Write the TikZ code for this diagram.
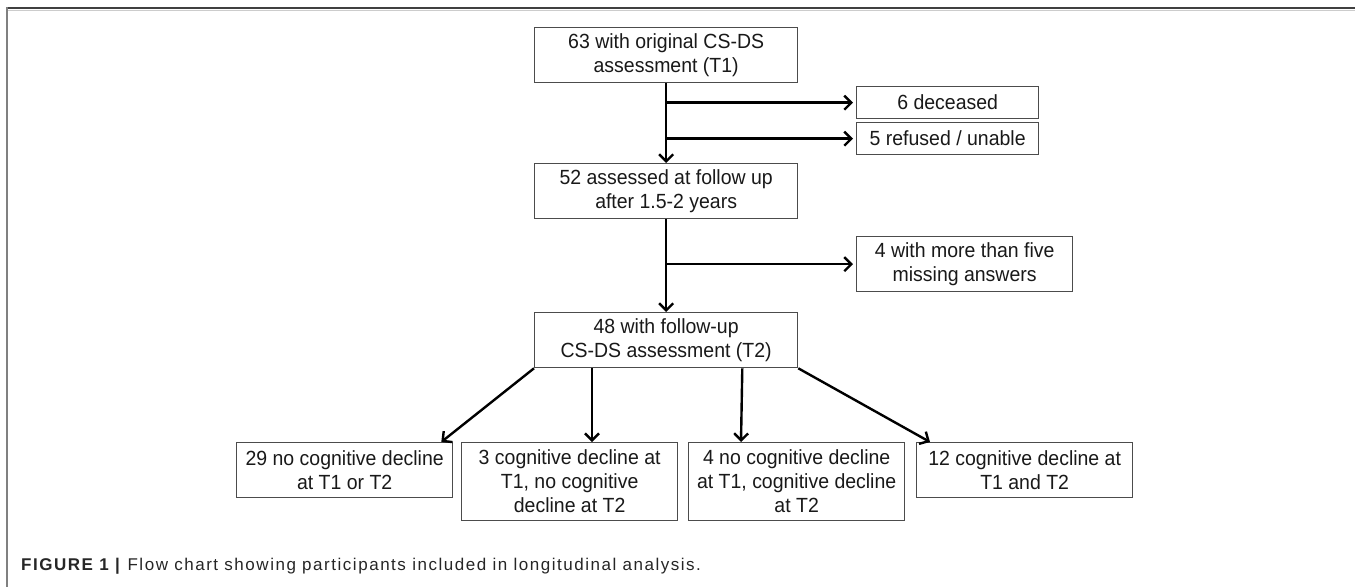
\documentclass[tikz,border=0pt]{standalone}
\usepackage{fontspec}
\setmainfont{Liberation Sans}
\newfontfamily\boxfont[FakeStretch=0.95]{Liberation Sans}
\newfontfamily\capfont[LetterSpace=9]{Liberation Sans}
\usetikzlibrary{arrows.meta,calc}
\begin{document}
\begin{tikzpicture}[x=1pt,y=-1pt,
  box/.style={draw=black!70, line width=1.3pt, align=center, inner sep=0pt, anchor=north west,
    font=\boxfont\fontsize{20.5}{24}\selectfont, text=black!90},
  arr/.style={line width=2.4pt, -{Straight Barb[length=7pt,width=14pt]}},
  frameline/.style={line width=2pt}]
\useasboundingbox (0,0) rectangle (1355,587);
\fill[white] (0,0) rectangle (1355,587);
% frame
\draw[frameline, black!75] (6,8) -- (1355,8);
\draw[black!20, line width=1pt] (8,10.5) -- (1355,10.5);
\draw[frameline, black!50] (7,7) -- (7,587);
% nodes
\node[box, minimum width=263pt, minimum height=55pt] (t1) at (534,27) {63 with original CS-DS\\assessment (T1)};
\node[box, minimum width=182pt, minimum height=32pt] (dec) at (856,86) {6 deceased};
\node[box, minimum width=182pt, minimum height=32pt] (ref) at (856,122) {5 refused / unable};
\node[box, minimum width=263pt, minimum height=55pt] (t52) at (534,163) {52 assessed at follow up\\after 1.5-2 years};
\node[box, minimum width=216pt, minimum height=55pt] (miss) at (856,236) {4 with more than five\\missing answers};
\node[box, minimum width=263pt, minimum height=55pt] (t48) at (534,312) {48 with follow-up\\CS-DS assessment (T2)};
\node[box, minimum width=216pt, minimum height=55pt] (b29) at (236,442) {29 no cognitive decline\\at T1 or T2};
\node[box, minimum width=216pt, minimum height=78pt] (b3) at (461,442) {3 cognitive decline at\\T1, no cognitive\\decline at T2};
\node[box, minimum width=216pt, minimum height=78pt] (b4) at (688,442) {4 no cognitive decline\\at T1, cognitive decline\\at T2};
\node[box, minimum width=216pt, minimum height=55pt] (b12) at (916,442) {12 cognitive decline at\\T1 and T2};
% connectors
\draw[arr] (t1) -- (t52);
\draw[arr, shorten >=3pt] (t1.south |- dec.west) -- (dec.west);
\draw[arr, shorten >=3pt] (t1.south |- ref.west) -- (ref.west);
\draw[arr] (t52) -- (t48);
\draw[arr, shorten >=3pt] (t52.south |- miss.west) -- (miss.west);
\draw[arr] (t48.south west) -- ($(b29.north east)+(-12,0)$);
\draw[arr] ($(t48.south west)+(58,0)$) -- ($(b3.north west)+(131,0)$);
\draw[arr] ($(t48.south east)+(-56,0)$) -- ($(b4.north west)+(53,0)$);
\draw[arr] (t48.south east) -- ($(b12.north west)+(14,0)$);
% caption
\node[anchor=west, inner sep=0pt, font=\capfont\fontsize{17}{20}\selectfont, text=black!85] (cap) at (21,566)
  {\textbf{FIGURE 1 |} Flow chart showing participants included in longitudinal analysis.};
\end{tikzpicture}
\end{document}
